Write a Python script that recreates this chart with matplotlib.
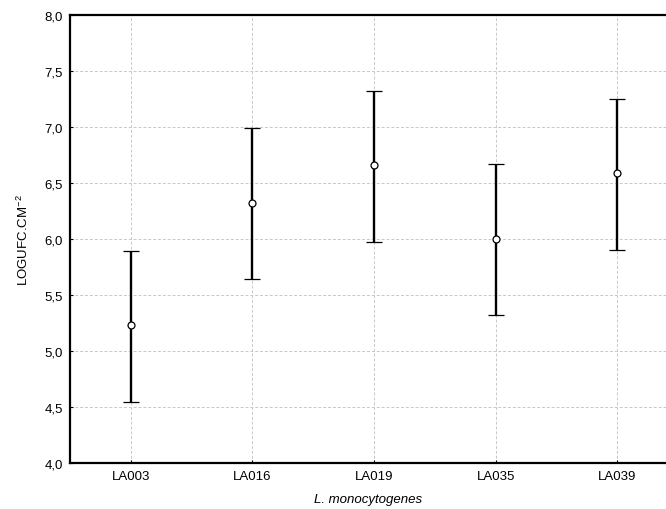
import matplotlib.pyplot as plt
import numpy as np

plt.rcParams['font.family'] = ['Liberation Sans', 'DejaVu Sans']
plt.rcParams['mathtext.fontset'] = 'custom'
plt.rcParams['mathtext.rm'] = 'Liberation Sans'
plt.rcParams['mathtext.it'] = 'Liberation Sans:italic'

# -------------------------------
# DATA
# -------------------------------
strains = ["LA003", "LA016", "LA019", "LA035", "LA039"]
means = [5.23, 6.32, 6.655, 6.00, 6.59]
upper = [5.89, 6.99, 7.32, 6.665, 7.245]
lower = [4.545, 5.64, 5.975, 5.32, 5.90]

x = np.arange(1, len(strains) + 1)
yerr = [np.array(means) - np.array(lower), np.array(upper) - np.array(means)]

fig = plt.figure(figsize=(6.66, 5.1), dpi=100)
ax = fig.add_axes([70 / 666, 46 / 510, 596 / 666, 448.5 / 510])

ax.errorbar(x, means, yerr=yerr, fmt="o", color="black", ecolor="black",
            elinewidth=1.7, capsize=5.5, capthick=1.7,
            markersize=5, markerfacecolor="white", markeredgecolor="black",
            markeredgewidth=0.9, zorder=3)

ax.set_xlim(0.5, 5.4)
ax.set_ylim(4.0, 8.0)
ax.set_xticks(x)
ax.set_xticklabels(strains, fontsize=9.5)
yt = np.arange(4.0, 8.01, 0.5)
ax.set_yticks(yt)
ax.set_yticklabels([f"{v:.1f}".replace(".", ",") for v in yt], fontsize=9.5)

ax.grid(True, linestyle=(0, (3, 2)), color="#c8c8c8", linewidth=0.7)
ax.set_axisbelow(True)
ax.tick_params(direction="in", length=2, width=0.8, pad=5)

for side in ["left", "top", "bottom"]:
    ax.spines[side].set_linewidth(1.6)
ax.spines["right"].set_visible(False)

ax.set_ylabel(r"LOGUFC.CM$^{-2}$", fontsize=9.5, labelpad=10)
ax.set_xlabel("L. monocytogenes", fontsize=9.5, style="italic", labelpad=8)

fig.savefig("out.png", dpi=100)
